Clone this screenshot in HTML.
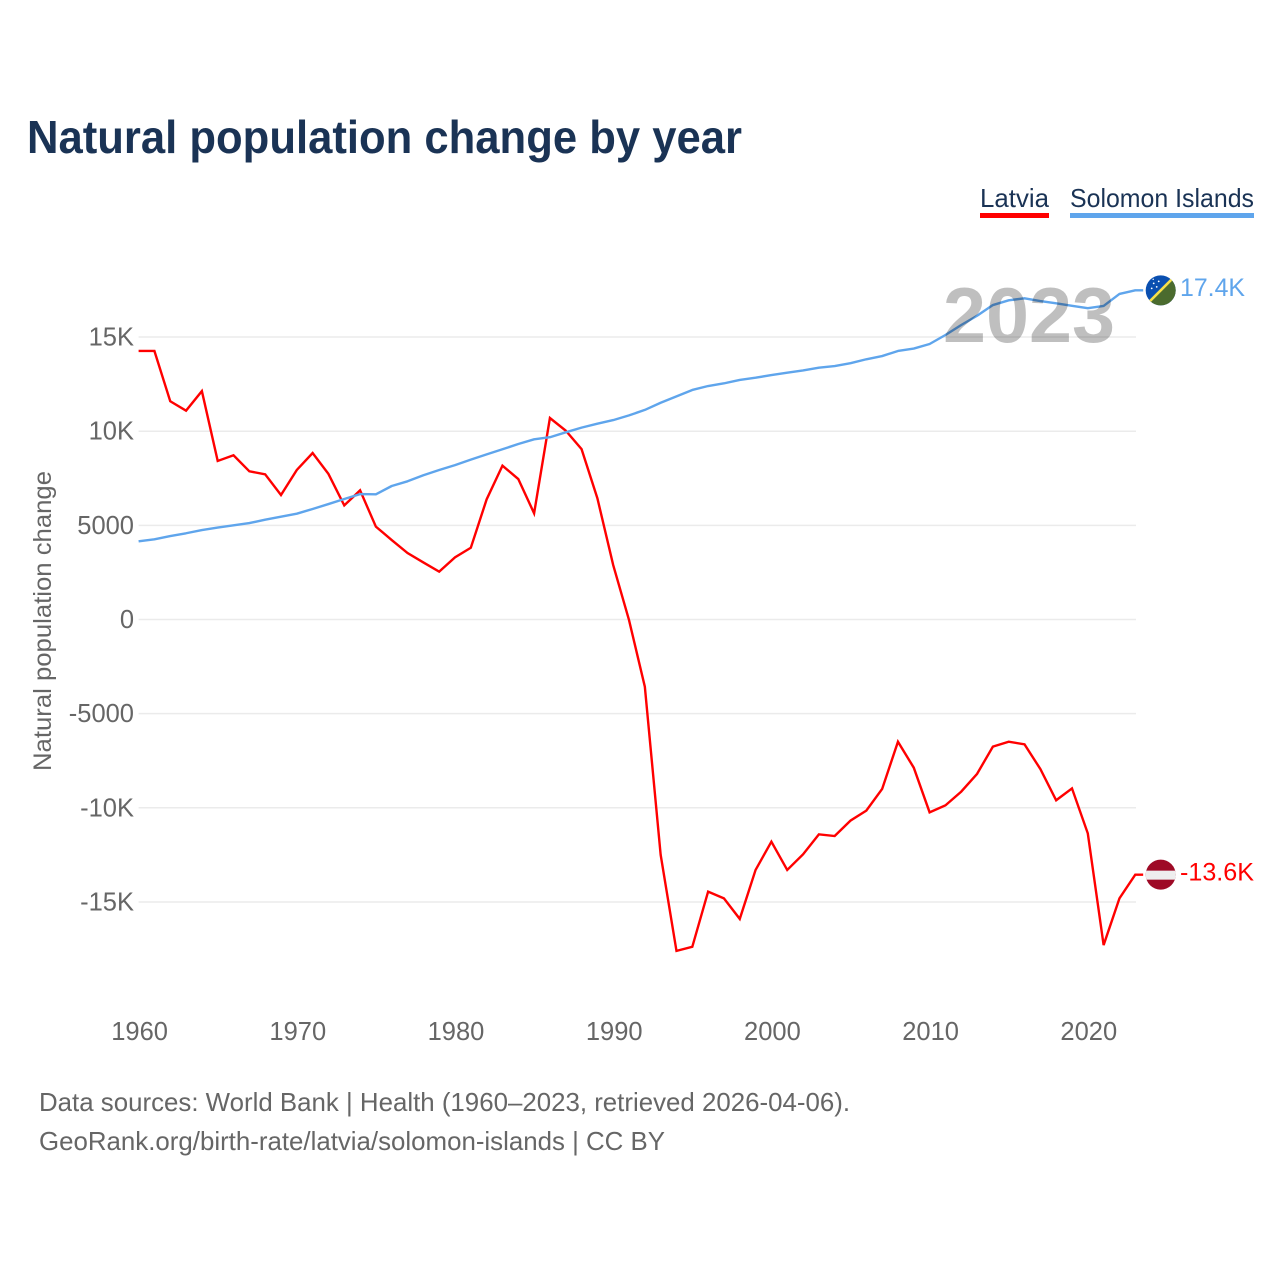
<!DOCTYPE html>
<html lang="en">
<head>
<meta charset="utf-8">
<title>Natural population change by year</title>
<style>
html,body{margin:0;padding:0;background:#fff;width:1280px;height:1280px;overflow:hidden}
svg{display:block}
text{font-family:"Liberation Sans",sans-serif}
</style>
</head>
<body>
<svg id="chart" xmlns="http://www.w3.org/2000/svg" width="1280" height="1280" viewBox="0 0 1280 1280">
  <text x="27" y="153" font-size="46" font-weight="700" fill="#1a3355" textLength="715" lengthAdjust="spacingAndGlyphs">Natural population change by year</text>

  <g>
    <g>
      <text x="980" y="207" font-size="26" fill="#1a3355" textLength="69" lengthAdjust="spacingAndGlyphs">Latvia</text>
      <rect x="980" y="213" width="69" height="5" fill="#ff0000"/>
    </g>
    <g>
      <text x="1070" y="207" font-size="26" fill="#1a3355" textLength="184" lengthAdjust="spacingAndGlyphs">Solomon Islands</text>
      <rect x="1070" y="213" width="184" height="5" fill="#5fa5ec"/>
    </g>
  </g>

  <g id="grid"></g>
  <g id="yticks"></g>
  <g id="xticks"></g>

  <text transform="translate(51 621) rotate(-90)" text-anchor="middle" font-size="25" fill="#666666" textLength="300" lengthAdjust="spacingAndGlyphs">Natural population change</text>

  <g id="series"></g>

  <text x="1029" y="342" text-anchor="middle" font-size="78" font-weight="700" fill="#000000" fill-opacity="0.25" textLength="172" lengthAdjust="spacingAndGlyphs">2023</text>

  <defs>
    <clipPath id="clip-solomon"><circle id="clip-solomon-circle" cx="0" cy="0" r="15"/></clipPath>
    <clipPath id="clip-latvia"><circle id="clip-latvia-circle" cx="0" cy="0" r="15"/></clipPath>
  </defs>

  <g id="flag-solomon" clip-path="url(#clip-solomon)">
    <rect x="-16" y="-16" width="32" height="32" fill="#0a4fb0"/>
    <polygon points="16,-16 16,16 -16,16" fill="#4b6b2e"/>
    <line x1="-16" y1="16" x2="16" y2="-16" stroke="#f5e04a" stroke-width="2.6"/>
    <g fill="#ffffff">
      <circle cx="-7" cy="-7" r="0.9"/><circle cx="-2" cy="-9" r="0.9"/><circle cx="-9" cy="-2" r="0.9"/><circle cx="-4" cy="-3.5" r="0.9"/><circle cx="-7.5" cy="-11" r="0.7"/>
    </g>
  </g>

  <g id="flag-latvia" clip-path="url(#clip-latvia)">
    <rect x="-16" y="-16" width="32" height="32" fill="#9e0a26"/>
    <rect x="-16" y="-4" width="32" height="9" fill="#eeeeee"/>
  </g>

  <text id="value-solomon" x="1180" font-size="25" fill="#5fa5ec" textLength="65" lengthAdjust="spacingAndGlyphs"></text>
  <text id="value-latvia" x="1180" font-size="25" fill="#ff0000" textLength="74" lengthAdjust="spacingAndGlyphs"></text>

  <g>
    <text x="39" y="1111" font-size="26" fill="#666666" textLength="811" lengthAdjust="spacingAndGlyphs">Data sources: World Bank | Health (1960–2023, retrieved 2026-04-06).</text>
    <text x="39" y="1150" font-size="26" fill="#666666" textLength="626" lengthAdjust="spacingAndGlyphs">GeoRank.org/birth-rate/latvia/solomon-islands | CC BY</text>
  </g>
</svg>

<script>
var startYear = 1960;
var latviaValues = [14260,14260,11590,11090,12130,8420,8720,7870,7710,6610,7940,8840,7730,6060,6860,4930,4220,3530,3030,2540,3300,3810,6380,8170,7460,5640,10700,10030,9050,6440,2890,-30,-3570,-12500,-17600,-17380,-14450,-14810,-15900,-13300,-11800,-13300,-12470,-11410,-11500,-10680,-10150,-9000,-6490,-7870,-10240,-9870,-9140,-8200,-6750,-6490,-6630,-7940,-9600,-8970,-11360,-17290,-14810,-13550];
var solomonValues = [4150,4260,4430,4580,4750,4880,5000,5120,5300,5460,5620,5870,6130,6400,6660,6650,7090,7340,7660,7940,8200,8490,8770,9040,9320,9570,9680,9940,10190,10400,10590,10840,11130,11510,11850,12190,12400,12540,12720,12840,12980,13110,13230,13370,13460,13610,13820,13990,14260,14390,14630,15110,15640,16130,16700,16950,17060,16910,16790,16660,16530,16650,17290,17480];
var yTickValues = [15000,10000,5000,0,-5000,-10000,-15000];
var yTickLabels = ["15K","10K","5000","0","-5000","-10K","-15K"];
var xTickValues = [1960,1970,1980,1990,2000,2010,2020];
var latviaEndLabel = "-13.6K";
var solomonEndLabel = "17.4K";

var SVG_NS = "http://www.w3.org/2000/svg";
function xScale(year){ return 138.6 + 15.82 * (year - 1960); }
function yScale(value){ return 619.5 - value * 0.01883; }

function lineThrough(values){
  var parts = [];
  for (var i = 0; i < values.length; i++) {
    parts.push(xScale(startYear + i).toFixed(2) + "," + yScale(values[i]).toFixed(2));
  }
  // short horizontal stub running toward the end-of-line flag
  parts.push(xScale(startYear + values.length - 0.5).toFixed(2) + "," + yScale(values[values.length - 1]).toFixed(2));
  return parts.join(" ");
}

var grid = document.getElementById("grid");
var yticks = document.getElementById("yticks");
yTickValues.forEach(function(v, i){
  var ln = document.createElementNS(SVG_NS, "line");
  
  
  ln.setAttribute("x1", xScale(1960));
  ln.setAttribute("x2", 1136);
  ln.setAttribute("y1", yScale(v));
  ln.setAttribute("y2", yScale(v));
  ln.setAttribute("stroke", "#ebebeb");
  ln.setAttribute("stroke-width", "1.5");
  grid.appendChild(ln);

  var t = document.createElementNS(SVG_NS, "text");
  
  
  t.setAttribute("x", 134);
  t.setAttribute("y", yScale(v) + 8.5);
  t.setAttribute("text-anchor", "end");
  t.setAttribute("font-size", "25.5");
  t.setAttribute("fill", "#666666");
  t.textContent = yTickLabels[i];
  yticks.appendChild(t);
});

var xticks = document.getElementById("xticks");
xTickValues.forEach(function(yr){
  var t = document.createElementNS(SVG_NS, "text");
  
  
  t.setAttribute("x", xScale(yr) + 1);
  t.setAttribute("y", 1040);
  t.setAttribute("text-anchor", "middle");
  t.setAttribute("font-size", "25.5");
  t.setAttribute("fill", "#666666");
  t.textContent = String(yr);
  xticks.appendChild(t);
});

var seriesGroup = document.getElementById("series");

var latviaLine = document.createElementNS(SVG_NS, "polyline");


latviaLine.setAttribute("points", lineThrough(latviaValues));
latviaLine.setAttribute("fill", "none");
latviaLine.setAttribute("stroke", "#ff0000");
latviaLine.setAttribute("stroke-width", "2.4");
latviaLine.setAttribute("stroke-linejoin", "miter");
seriesGroup.appendChild(latviaLine);

var solomonLine = document.createElementNS(SVG_NS, "polyline");


solomonLine.setAttribute("points", lineThrough(solomonValues));
solomonLine.setAttribute("fill", "none");
solomonLine.setAttribute("stroke", "#5fa5ec");
solomonLine.setAttribute("stroke-width", "2.4");
solomonLine.setAttribute("stroke-linejoin", "round");
seriesGroup.appendChild(solomonLine);

var flagX = 1160.7;
var solomonEndY = yScale(solomonValues[solomonValues.length - 1]);
var latviaEndY = yScale(latviaValues[latviaValues.length - 1]);

document.getElementById("flag-solomon").setAttribute("transform", "translate(" + flagX + " " + solomonEndY + ")");
document.getElementById("flag-latvia").setAttribute("transform", "translate(" + flagX + " " + latviaEndY + ")");

var solomonText = document.getElementById("value-solomon");
solomonText.setAttribute("y", solomonEndY + 5.5);
solomonText.textContent = solomonEndLabel;

var latviaText = document.getElementById("value-latvia");
latviaText.setAttribute("y", latviaEndY + 5.7);
latviaText.textContent = latviaEndLabel;
</script>
</body>
</html>
